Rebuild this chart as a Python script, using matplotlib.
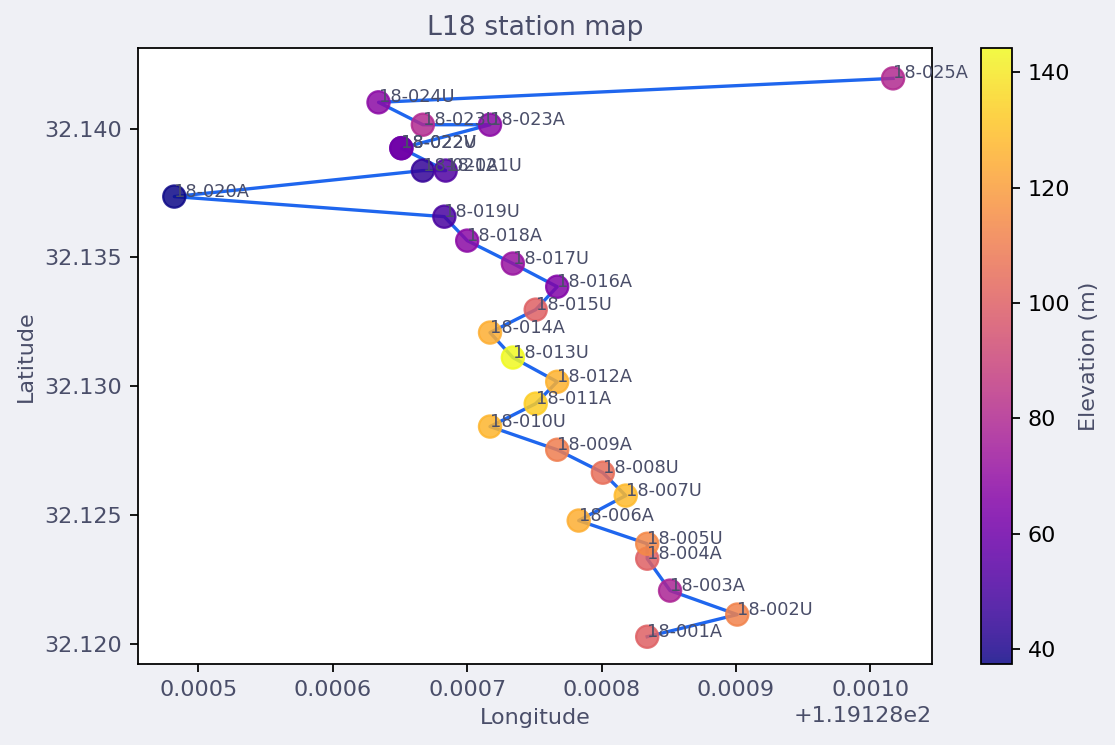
import numpy as np
import matplotlib
matplotlib.use("Agg")
from matplotlib import pyplot as plt

# station data (longitude offset from 119.128, latitude, elevation)
stations = ['18-001A', '18-002U', '18-003A', '18-004A', '18-005U', '18-006A',
            '18-007U', '18-008U', '18-009A', '18-010U', '18-011A', '18-012A',
            '18-013U', '18-014A', '18-015U', '18-016A', '18-017U', '18-018A',
            '18-019U', '18-020A', '18-021A', '18-021U', '18-022U', '18-022V',
            '18-023A', '18-023U', '18-024U', '18-025A']
lon_off = [0.000834, 0.000901, 0.000851, 0.000834, 0.000834, 0.000783,
           0.000818, 0.000801, 0.000767, 0.000717, 0.000751, 0.000767,
           0.000734, 0.000717, 0.000751, 0.000767, 0.000734, 0.000700,
           0.000683, 0.000482, 0.000667, 0.000684, 0.000651, 0.000651,
           0.000717, 0.000667, 0.000634, 0.001017]
lat = [32.12027, 32.12113, 32.12206, 32.12330, 32.12388, 32.12478,
       32.12575, 32.12664, 32.12753, 32.12843, 32.12932, 32.13017,
       32.13111, 32.13208, 32.13297, 32.13386, 32.13476, 32.13565,
       32.13658, 32.13736, 32.13837, 32.13837, 32.13924, 32.13924,
       32.14015, 32.14015, 32.14102, 32.14195]
elev = [100, 112, 78, 100, 114, 125,
        128, 105, 110, 127, 133, 126,
        144.2, 125, 100, 65, 72, 68,
        50, 37.4, 45, 52, 60, 60,
        68, 80, 68, 80]

lon = 119.128 + np.array(lon_off)
lat = np.array(lat)

txt = '#4a4e69'
bg = '#eff0f5'
plt.rcParams['text.color'] = txt
plt.rcParams['axes.labelcolor'] = txt

fig = plt.figure(figsize=(1115/160, 745/160), dpi=160, facecolor=bg)
ax = fig.add_axes([0.1238, 0.1087, 0.7121, 0.8269])
cax = fig.add_axes([0.8798, 0.1087, 0.0278, 0.8269])

ax.plot(lon, lat, color='#1f66ee', lw=1.5, zorder=1)
sc = ax.scatter(lon, lat, c=elev, cmap='plasma', s=100, alpha=0.85,
                vmin=min(elev), vmax=max(elev), zorder=2)
for name, x, y in zip(stations, lon, lat):
    ax.text(x, y, name, fontsize=8, color=txt, zorder=3)

ax.set_xlim(119.128 + 0.000455, 119.128 + 0.001046)
ax.set_ylim(32.11921, 32.14313)
ax.set_title('L18 station map', color=txt, fontsize=12)
ax.set_xlabel('Longitude')
ax.set_ylabel('Latitude')
ax.tick_params(labelcolor=txt)

cb = fig.colorbar(sc, cax=cax)
cb.set_label('Elevation (m)', color=txt)

fig.savefig('out.png', dpi=160, facecolor=bg)
